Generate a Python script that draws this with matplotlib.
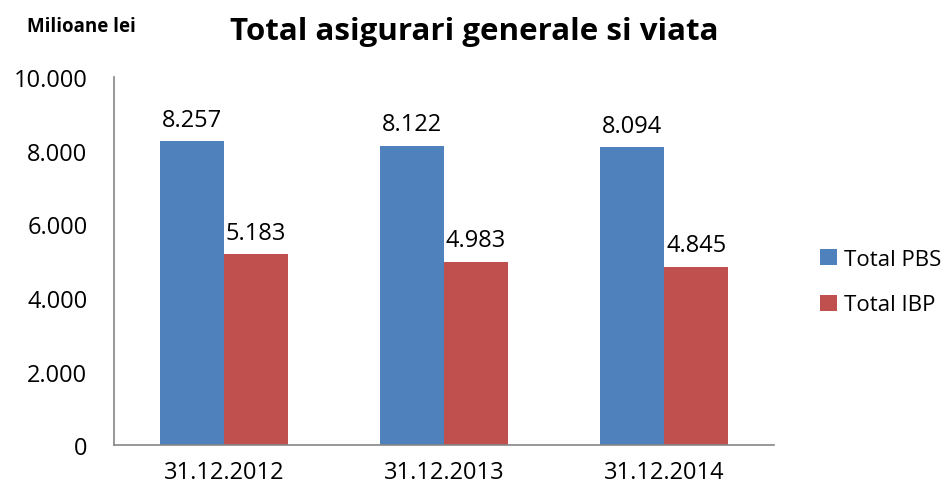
import matplotlib
matplotlib.use("Agg")
import matplotlib.pyplot as plt
import numpy as np

categories = ["31.12.2012", "31.12.2013", "31.12.2014"]
pbs = [8257, 8122, 8094]
ibp = [5183, 4983, 4845]
series_names = ["Total PBS", "Total IBP"]
yticks = [0, 2000, 4000, 6000, 8000, 10000]

plt.rcParams['font.family'] = ['Open Sans', 'DejaVu Sans']

def fmt(v):
    return f"{v:,}".replace(",", ".")

fig = plt.figure(figsize=(9.49, 4.85), dpi=100)
ax = fig.add_axes([0.120, 0.080, 0.696, 0.759])

x = np.arange(len(categories))
w = 0.29
b1 = ax.bar(x - w/2, pbs, w, color="#4F81BD", label=series_names[0])
b2 = ax.bar(x + w/2, ibp, w, color="#C0504D", label=series_names[1])

for bars, vals in ((b1, pbs), (b2, ibp)):
    for r, v in zip(bars, vals):
        ax.annotate(fmt(v), (r.get_x() + r.get_width()/2, v), xytext=(0, 7),
                    textcoords="offset points", ha="center", va="bottom", fontsize=17)

ax.set_xlim(-0.5, len(categories) - 0.5)
ax.set_ylim(0, 10000)
ax.set_yticks(yticks)
ax.set_yticklabels([fmt(t) for t in yticks], fontsize=17)
ax.set_xticks(x)
ax.set_xticklabels(categories, fontsize=17)
ax.tick_params(axis='x', length=0, pad=11)
ax.tick_params(axis='y', length=0, pad=19)
for s in ("top", "right"):
    ax.spines[s].set_visible(False)
for s in ("left", "bottom"):
    ax.spines[s].set_color("#868686")
    ax.spines[s].set_linewidth(1.2)

fig.text(0.500, 0.935, "Total asigurari generale si viata", ha="center", va="center",
         fontsize=22.5, fontweight="bold")
fig.text(0.028, 0.945, "Milioane lei", ha="left", va="center", fontsize=13.5, fontweight="bold")

leg = fig.legend(loc="center left", bbox_to_anchor=(0.864, 0.416), frameon=False,
                 fontsize=16, handlelength=0.75, handleheight=0.75, handletextpad=0.35,
                 labelspacing=1.1, borderpad=0, borderaxespad=0)

fig.savefig("out.png", dpi=100)
